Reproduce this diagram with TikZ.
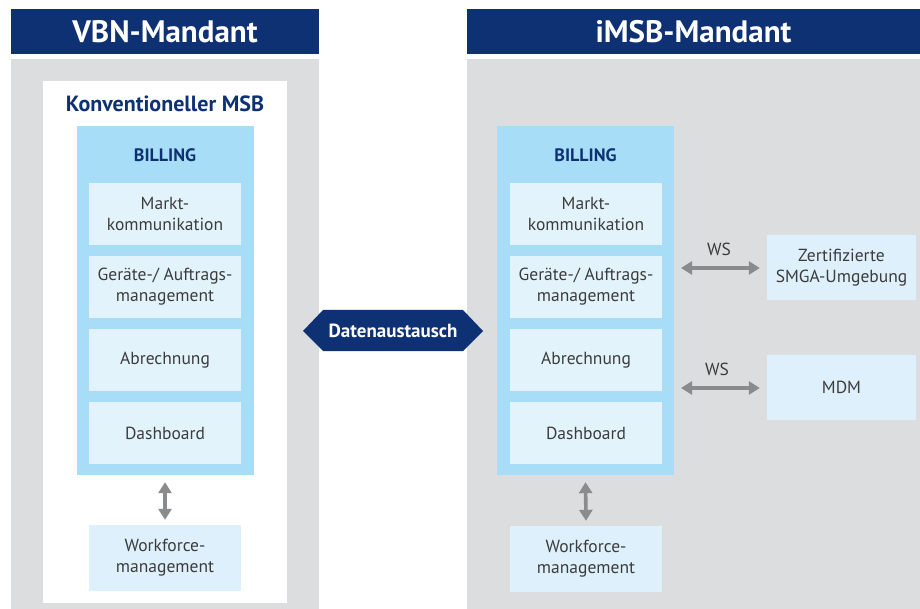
\documentclass[tikz,border=0pt]{standalone}
\usepackage{fontspec}
\setmainfont{PT Sans}
\usetikzlibrary{arrows.meta}
\definecolor{navy}{HTML}{0E3174}
\definecolor{panelgray}{HTML}{DCDDDF}
\definecolor{billblue}{HTML}{A7DDF6}
\definecolor{modfill}{HTML}{E3F3FB}
\definecolor{sidefill}{HTML}{DDF0FB}
\definecolor{txtgray}{HTML}{3C3C3C}
\definecolor{arrowgray}{HTML}{8A8B8D}
\tikzset{
  header/.style={fill=navy, draw=none, text=white, inner sep=0pt,
    font=\fontsize{31}{34}\selectfont\bfseries},
  panel/.style={fill=panelgray, draw=none, inner sep=0pt},
  module/.style={fill=modfill, draw=none, text=txtgray, inner sep=0pt,
    minimum width=152pt, minimum height=62pt, align=center,
    font=\fontsize{17.5}{21}\selectfont},
  sidebox/.style={fill=sidefill, draw=none, text=txtgray, inner sep=0pt,
    minimum width=149pt, minimum height=65pt, align=center,
    font=\fontsize{17.5}{21}\selectfont},
  billtitle/.style={text=navy, inner sep=0pt, font=\fontsize{18}{20}\selectfont\bfseries},
  twoway/.style={arrowgray, line width=3.6pt,
    {Triangle[width=13pt,length=11pt]}-{Triangle[width=13pt,length=11pt]}},
  wslabel/.style={text=txtgray, inner sep=0pt, font=\fontsize{17.5}{20}\selectfont}
}
\begin{document}
\begin{tikzpicture}[x=1pt,y=-1pt]
\useasboundingbox (0,0) rectangle (920,609);
\fill[white] (0,0) rectangle (920,609);

% headers
\node[header, minimum width=308pt, minimum height=45pt] (hvbn) at (165,31.5) {VBN-Mandant};
\node[header, minimum width=453pt, minimum height=45pt] (himsb) at (693.5,31.5) {iMSB-Mandant};

% grey client panels
\node[panel, minimum width=308pt, minimum height=550pt] (pvbn) at (165,334) {};
\node[panel, minimum width=453pt, minimum height=550pt] (pimsb) at (693.5,334) {};

% conventional MSB frame
\node[fill=white, inner sep=0pt, minimum width=244pt, minimum height=522pt] (msb) at (165,342) {};
\node[text=navy, inner sep=0pt, font=\fontsize{22}{24}\selectfont\bfseries] (msbtitle) at (165,104) {Konventioneller MSB};

% billing blocks
\node[fill=billblue, inner sep=0pt, minimum width=177pt, minimum height=349pt] (billL) at (165,300.5) {};
\node[fill=billblue, inner sep=0pt, minimum width=177pt, minimum height=349pt] (billR) at (585.5,300.5) {};
\node[billtitle] (btL) at (165,155) {BILLING};
\node[billtitle] (btR) at (585.5,155) {BILLING};

% billing modules, left
\node[module] (mkL) at (165,214) {Markt-\\kommunikation};
\node[module] (gaL) at (165,287) {Geräte-/ Auftrags-\\management};
\node[module] (abL) at (165,360) {Abrechnung};
\node[module] (dbL) at (165,433) {Dashboard};
% billing modules, right
\node[module] (mkR) at (586,214) {Markt-\\kommunikation};
\node[module] (gaR) at (586,287) {Geräte-/ Auftrags-\\management};
\node[module] (abR) at (586,360) {Abrechnung};
\node[module] (dbR) at (586,433) {Dashboard};

% workforce management
\node[sidebox, minimum width=152pt, minimum height=66pt] (wfL) at (165,558) {Workforce-\\management};
\node[sidebox, minimum width=152pt, minimum height=66pt] (wfR) at (586,559) {Workforce-\\management};
\draw[twoway] ([yshift=-7pt]billL.south) -- ([yshift=5pt]wfL.north);
\draw[twoway] ([yshift=-7pt]billR.south) -- ([yshift=5pt]wfR.north);

% external systems
\node[sidebox] (smga) at (841.5,267.5) {Zertifizierte\\SMGA-Umgebung};
\node[sidebox] (mdm) at (841.5,387.5) {MDM};
\coordinate (ws1a) at (681,268);
\coordinate (ws2a) at (681,388);
\draw[twoway] (ws1a) -- ([xshift=-7pt]smga.west |- ws1a);
\draw[twoway] (ws2a) -- ([xshift=-7pt]mdm.west |- ws2a);
\node[wslabel] (ws1) at (719,249) {WS};
\node[wslabel] (ws2) at (717,369) {WS};

% data exchange
\coordinate (dx) at (393,331);
\fill[navy] (303,331) -- (323,310) -- (463,310) -- (483,331) -- (463,351) -- (323,351) -- cycle;
\node[text=white, inner sep=0pt, font=\fontsize{19}{22}\selectfont\bfseries] (dxlabel) at (dx) {Datenaustausch};
\end{tikzpicture}
\end{document}
